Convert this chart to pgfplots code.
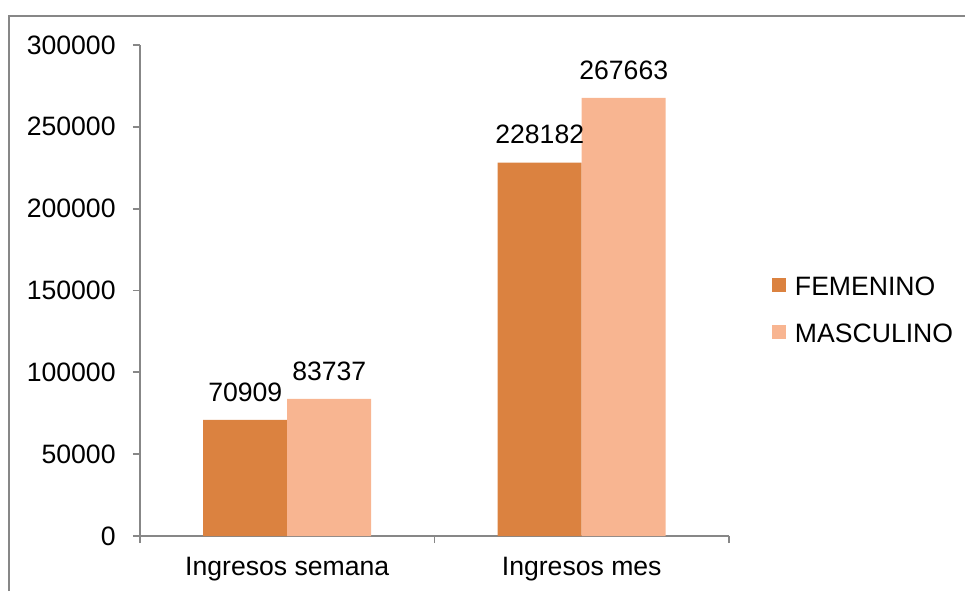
\documentclass[border=0pt]{standalone}
\usepackage{fontspec}
\setmainfont{Liberation Sans}
\usepackage{pgfplots}
\pgfplotsset{compat=1.18}
\definecolor{femcol}{HTML}{DB8240}
\definecolor{mascol}{HTML}{F8B591}
\definecolor{axgray}{HTML}{878787}

\begin{document}
\begin{tikzpicture}
\path[use as bounding box] (0,0) rectangle (482.5pt,295.5pt);
\draw[axgray, line width=1pt] (4.5pt,0) -- (4.5pt,287.5pt) -- (482.5pt,287.5pt);
\begin{axis}[
  at={(70pt,27.5pt)}, anchor=south west,
  scale only axis, width=294.5pt, height=245.5pt,
  font=\fontsize{13.3}{16}\selectfont,
  ybar=0pt, bar width=42pt,
  xmin=-0.5, xmax=1.5, ymin=0, ymax=300000,
  axis x line*=bottom, axis y line*=left,
  axis line style={axgray, line width=0.9pt},
  tick style={axgray, line width=0.9pt},
  tick align=outside, major tick length=3.5pt,
  ytick={0,50000,...,300000},
  scaled y ticks=false,
  /pgf/number format/.cd, fixed, precision=0, 1000 sep={}, assume math mode=true, /pgfplots/.cd,
  yticklabel style={inner sep=0pt, xshift=-8.5pt},
  xtick={-0.5,0.5,1.5}, xticklabels={,,},
  extra x ticks={0,1},
  extra x tick labels={Ingresos semana,Ingresos mes},
  extra x tick style={major tick length=0pt, xticklabel style={inner sep=0pt, yshift=-10.5pt}},
  nodes near coords,
  every node near coord/.append style={inner sep=0pt, anchor=south, yshift=9pt, black},
  legend style={draw=none, fill=none, at={(1,0.5)}, anchor=west, xshift=21.5pt, yshift=-9pt,
    row sep=13.5pt, column sep=4.5pt, inner sep=0pt, outer sep=0pt,
    nodes={inner sep=0pt, text height=10pt, text depth=0pt}},
  legend cell align=left,
  legend image code/.code={\fill[#1,draw=none] (0pt,-3.5pt) rectangle (7pt,3.5pt);},
]
\addplot[fill=femcol, draw=none] coordinates {(0,70909) (1,228182)};
\addlegendentry{FEMENINO}
\addplot[fill=mascol, draw=none] coordinates {(0,83737) (1,267663)};
\addlegendentry{MASCULINO}
\end{axis}
\end{tikzpicture}
\end{document}
